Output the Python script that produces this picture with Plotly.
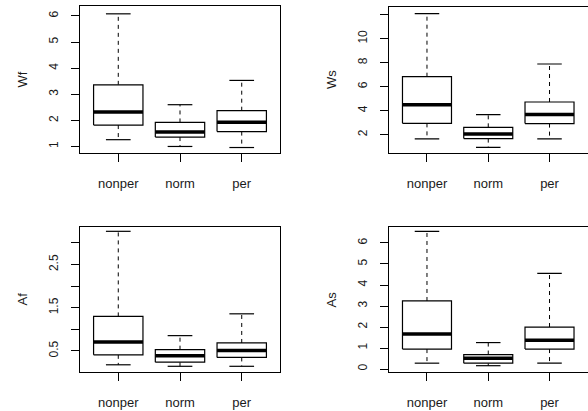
import plotly.graph_objects as go

categories = ["nonper", "norm", "per"]

# five-number summaries per panel: lower whisker, Q1, median, Q3, upper whisker
wf_lower = [1.26, 1.00, 0.96]
wf_q1 = [1.82, 1.36, 1.57]
wf_med = [2.32, 1.55, 1.93]
wf_q3 = [3.36, 1.92, 2.37]
wf_upper = [6.08, 2.60, 3.53]

ws_lower = [1.64, 0.94, 1.64]
ws_q1 = [2.94, 1.67, 2.92]
ws_med = [4.50, 2.06, 3.67]
ws_q3 = [6.83, 2.61, 4.72]
ws_upper = [12.08, 3.67, 7.89]

af_lower = [0.18, 0.145, 0.145]
af_q1 = [0.41, 0.24, 0.35]
af_med = [0.71, 0.39, 0.51]
af_q3 = [1.30, 0.53, 0.685]
af_upper = [3.27, 0.855, 1.36]

as_lower = [0.28, 0.16, 0.28]
as_q1 = [0.95, 0.28, 0.95]
as_med = [1.67, 0.52, 1.37]
as_q3 = [3.24, 0.69, 2.00]
as_upper = [6.55, 1.26, 4.55]

panels = [
    ("Wf", wf_lower, wf_q1, wf_med, wf_q3, wf_upper, [1, 2, 3, 4, 5, 6], ["1", "2", "3", "4", "5", "6"], [0.75, 6.38]),
    ("Ws", ws_lower, ws_q1, ws_med, ws_q3, ws_upper, [2, 4, 6, 8, 10, 12], ["2", "4", "6", "8", "10", ""], [0.47, 12.64]),
    ("Af", af_lower, af_q1, af_med, af_q3, af_upper, [0.5, 1.0, 1.5, 2.0, 2.5, 3.0], ["0.5", "", "1.5", "", "2.5", ""], [0.013, 3.37]),
    ("As", as_lower, as_q1, as_med, as_q3, as_upper, [0, 1, 2, 3, 4, 5, 6], ["0", "1", "2", "3", "4", "5", "6"], [-0.14, 6.76]),
]

W, H = 588, 411
# plot regions in pixels (left, right, top, bottom)
regions = [(80, 280, 6, 153), (389, 587.5, 7, 153), (80, 280, 227, 372), (389, 587.5, 227, 372)]

fig = go.Figure()
BOX_HALF = 0.4
CAP_HALF = 0.2
LINE = "#000000"
TEXT = "#1a1a1a"
FONT = "Liberation Sans, Arial, sans-serif"

for i, (name, lo, q1, med, q3, up, tv, tt, yr) in enumerate(panels):
    xa = "x" if i == 0 else f"x{i+1}"
    ya = "y" if i == 0 else f"y{i+1}"
    for j in range(len(categories)):
        c = j + 1
        # whiskers (dashed)
        fig.add_trace(go.Scatter(x=[c, c, None, c, c], y=[q3[j], up[j], None, q1[j], lo[j]],
                                 mode="lines", line=dict(color=LINE, width=1, dash="4px,4px"),
                                 xaxis=xa, yaxis=ya, showlegend=False, hoverinfo="skip"))
        # caps
        fig.add_trace(go.Scatter(x=[c - CAP_HALF, c + CAP_HALF, None, c - CAP_HALF, c + CAP_HALF],
                                 y=[up[j], up[j], None, lo[j], lo[j]],
                                 mode="lines", line=dict(color=LINE, width=1.2),
                                 xaxis=xa, yaxis=ya, showlegend=False, hoverinfo="skip"))
        # box
        fig.add_trace(go.Scatter(x=[c - BOX_HALF, c + BOX_HALF, c + BOX_HALF, c - BOX_HALF, c - BOX_HALF],
                                 y=[q1[j], q1[j], q3[j], q3[j], q1[j]],
                                 mode="lines", fill="toself", fillcolor="white",
                                 line=dict(color=LINE, width=1.2),
                                 xaxis=xa, yaxis=ya, showlegend=False, hoverinfo="skip"))
        # median
        fig.add_trace(go.Scatter(x=[c - BOX_HALF, c + BOX_HALF], y=[med[j], med[j]],
                                 mode="lines", line=dict(color=LINE, width=3.5),
                                 xaxis=xa, yaxis=ya, showlegend=False, hoverinfo="skip"))

    l, r, t, b = regions[i]
    xkey = "xaxis" if i == 0 else f"xaxis{i+1}"
    ykey = "yaxis" if i == 0 else f"yaxis{i+1}"
    fig.layout[xkey] = dict(
        domain=[l / W, r / W], anchor=ya, range=[0.38, 3.62],
        tickvals=[1, 2, 3], ticktext=categories, ticks="outside", ticklen=8,
        tickcolor=LINE, tickwidth=1, showline=True, mirror=True, linecolor=LINE, linewidth=1.2,
        showgrid=False, zeroline=False, tickfont=dict(family=FONT, size=13, color=TEXT),
        ticklabelstandoff=10, fixedrange=True,
    )
    fig.layout[ykey] = dict(
        domain=[1 - b / H, 1 - t / H], anchor=xa, range=yr,
        tickvals=tv, ticktext=tt, ticks="outside", ticklen=8, tickangle=-90,
        tickcolor=LINE, tickwidth=1, showline=True, mirror=True, linecolor=LINE, linewidth=1.2,
        showgrid=False, zeroline=False, tickfont=dict(family=FONT, size=12, color=TEXT),
        ticklabelstandoff=8, fixedrange=True,
    )
    fig.add_annotation(text=name, x=(l - 58) / W, y=1 - ((t + b) / 2) / H, xref="paper", yref="paper",
                       textangle=-90, showarrow=False, xanchor="center", yanchor="middle",
                       font=dict(family=FONT, size=13, color=TEXT))

fig.update_layout(width=W, height=H, margin=dict(l=0, r=0, t=0, b=0),
                  paper_bgcolor="white", plot_bgcolor="white", showlegend=False)

fig.write_html("out.html", config={"displayModeBar": False, "staticPlot": True},
               post_script="document.body.style.margin='0';document.body.style.padding='0';")
